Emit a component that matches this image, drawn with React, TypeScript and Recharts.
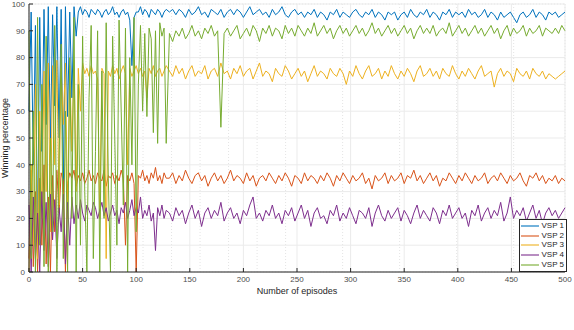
import {
  LineChart,
  Line,
  XAxis,
  YAxis,
  CartesianGrid,
  Legend,
} from 'recharts';

// episode index of each sample (every 2 episodes at the unstable start, every 3 after)
const episodes = [
  0, 2, 4, 6, 8, 10, 12, 14, 16, 18, 20,
  22, 24, 26, 28, 30, 32, 34, 36, 38, 40, 42,
  44, 46, 48, 50, 52, 54, 56, 58, 60, 62, 64,
  66, 68, 70, 72, 74, 76, 78, 80, 82, 84, 86,
  88, 90, 92, 94, 96, 98, 100, 102, 104, 106, 108,
  110, 112, 114, 116, 118, 120, 122, 124, 126, 128,
  131, 134, 137, 140, 143, 146, 149, 152, 155, 158,
  161, 164, 167, 170, 173, 176, 179, 182, 185, 188,
  191, 194, 197, 200, 203, 206, 209, 212, 215, 218,
  221, 224, 227, 230, 233, 236, 239, 242, 245, 248,
  251, 254, 257, 260, 263, 266, 269, 272, 275, 278,
  281, 284, 287, 290, 293, 296, 299, 302, 305, 308,
  311, 314, 317, 320, 323, 326, 329, 332, 335, 338,
  341, 344, 347, 350, 353, 356, 359, 362, 365, 368,
  371, 374, 377, 380, 383, 386, 389, 392, 395, 398,
  401, 404, 407, 410, 413, 416, 419, 422, 425, 428,
  431, 434, 437, 440, 443, 446, 449, 452, 455, 458,
  461, 464, 467, 470, 473, 476, 479, 482, 485, 488,
  491, 494, 497, 500,
];

const vsp1 = [
  60, 97, 40, 92, 10, 95, 45, 98, 55, 99, 48,
  96, 62, 99, 50, 98, 30, 99, 58, 97, 65, 99,
  88, 97, 99, 96, 98, 97, 95, 98, 97, 96, 98,
  97, 95, 97, 98, 96, 97, 99, 96, 97, 95, 97,
  98, 96, 97, 94, 77, 95, 97, 97, 99, 96, 98,
  97, 95, 98, 97, 96, 98, 97, 95, 97, 98,
  97, 98, 96, 98, 97, 95, 98, 96, 97, 99,
  96, 97, 95, 98, 97, 96, 98, 95, 97, 98,
  96, 98, 97, 95, 97, 99, 96, 97, 98, 96,
  97, 95, 98, 96, 97, 99, 96, 95, 97, 98,
  96, 97, 95, 97, 96, 98, 95, 97, 96, 94,
  97, 96, 98, 95, 97, 96, 95, 97, 98, 96,
  95, 97, 96, 98, 95, 97, 96, 94, 97, 96,
  97, 94, 96, 97, 95, 98, 96, 95, 97, 96,
  98, 95, 97, 96, 94, 97, 96, 98, 95, 97,
  96, 97, 95, 98, 96, 97, 95, 96, 98, 95,
  97, 96, 94, 97, 95, 96, 97, 95, 93, 96,
  97, 95, 96, 98, 95, 97, 96, 94, 97, 96,
  97, 95, 96, 97,
];

const vsp2 = [
  5, 38, 2, 30, 0, 35, 10, 40, 3, 28, 0,
  36, 15, 38, 22, 37, 34, 0, 33, 37, 35, 38,
  32, 36, 34, 37, 33, 35, 38, 34, 36, 33, 37,
  35, 34, 38, 32, 36, 35, 37, 33, 36, 34, 38,
  35, 10, 36, 34, 37, 33, 0, 36, 35, 38, 34,
  36, 33, 37, 35, 39, 34, 36, 33, 37, 35,
  35, 37, 33, 36, 34, 38, 35, 33, 36, 37,
  34, 36, 32, 35, 37, 34, 36, 33, 35, 38,
  34, 36, 35, 33, 37, 34, 36, 32, 35, 36,
  34, 37, 35, 33, 36, 34, 37, 35, 32, 36,
  35, 33, 37, 34, 36, 35, 33, 36, 34, 37,
  35, 32, 36, 34, 37, 35, 33, 36, 34, 35,
  37, 33, 35, 31, 36, 34, 35, 37, 33, 36,
  34, 35, 37, 33, 36, 35, 38, 34, 36, 33,
  35, 37, 34, 36, 32, 35, 34, 37, 35, 33,
  36, 34, 37, 35, 33, 36, 34, 35, 37, 33,
  35, 36, 34, 37, 35, 33, 36, 34, 35, 37,
  34, 32, 36, 35, 37, 34, 36, 33, 35, 34,
  36, 33, 35, 34,
];

const vsp3 = [
  0, 40, 10, 70, 5, 60, 20, 75, 30, 78, 15,
  77, 40, 79, 25, 76, 55, 78, 20, 77, 45, 79,
  30, 76, 60, 78, 74, 76, 73, 77, 74, 75, 72,
  20, 76, 74, 5, 75, 73, 77, 74, 76, 72, 75,
  77, 74, 40, 76, 73, 75, 77, 74, 76, 73, 75,
  65, 76, 74, 77, 73, 75, 76, 73, 75, 77,
  75, 73, 77, 74, 76, 72, 75, 77, 73, 75,
  74, 77, 72, 75, 76, 73, 78, 74, 75, 72,
  76, 74, 77, 73, 75, 76, 72, 75, 78, 73,
  75, 74, 71, 76, 74, 73, 77, 75, 72, 74,
  76, 73, 75, 71, 74, 77, 73, 75, 74, 72,
  76, 74, 73, 76, 74, 70, 75, 73, 77, 74,
  72, 75, 77, 73, 74, 76, 72, 75, 73, 77,
  74, 72, 75, 73, 76, 74, 71, 75, 77, 73,
  74, 76, 73, 75, 72, 76, 74, 73, 77, 74,
  72, 75, 73, 76, 74, 72, 75, 77, 73, 74,
  75, 69, 74, 76, 73, 75, 74, 71, 76, 74,
  73, 75, 72, 76, 74, 73, 75, 72, 74, 73,
  72, 73, 74, 75,
];

const vsp4 = [
  25, 0, 28, 5, 22, 0, 30, 8, 26, 2, 29,
  12, 27, 5, 24, 15, 29, 3, 26, 10, 28, 18,
  25, 20, 27, 22, 19, 25, 23, 21, 26, 24, 20,
  23, 26, 21, 24, 19, 22, 25, 21, 23, 18, 24,
  22, 26, 20, 23, 27, 21, 24, 22, 28, 20, 23,
  21, 25, 19, 22, 8, 24, 21, 25, 20, 23,
  22, 19, 24, 21, 23, 18, 22, 25, 20, 23,
  17, 22, 24, 20, 23, 21, 26, 19, 22, 24,
  20, 22, 18, 23, 21, 25, 28, 20, 22, 19,
  23, 21, 25, 20, 22, 18, 23, 21, 24, 19,
  22, 25, 20, 23, 17, 22, 24, 20, 21, 18,
  23, 21, 25, 19, 22, 20, 24, 21, 18, 23,
  22, 20, 24, 17, 22, 25, 21, 19, 23, 20,
  22, 24, 19, 23, 21, 18, 22, 25, 20, 23,
  21, 19, 24, 22, 18, 23, 21, 25, 20, 22,
  24, 20, 22, 17, 23, 21, 25, 19, 22, 24,
  20, 23, 21, 26, 19, 22, 28, 20, 23, 21,
  24, 19, 22, 25, 20, 23, 18, 22, 24, 21,
  23, 20, 22, 24,
];

const vsp5 = [
  90, 5, 60, 0, 95, 10, 70, 2, 88, 0, 50,
  15, 92, 0, 40, 85, 5, 60, 0, 80, 20, 95,
  0, 70, 10, 88, 30, 0, 65, 92, 5, 45, 90,
  0, 75, 20, 93, 35, 0, 88, 50, 10, 94, 60,
  25, 91, 0, 80, 40, 95, 15, 70, 92, 60, 89,
  58, 91, 87, 52, 90, 48, 93, 88, 91, 48,
  89, 86, 90, 88, 91, 87, 89, 92, 88, 90,
  87, 91, 89, 92, 88, 90, 54, 89, 91, 88,
  90, 92, 87, 89, 91, 88, 92, 90, 86, 91,
  89, 92, 88, 91, 90, 87, 92, 89, 91, 88,
  92, 90, 88, 91, 89, 93, 88, 90, 92, 89,
  91, 87, 90, 92, 89, 91, 88, 90, 92, 89,
  91, 88, 90, 93, 89, 91, 88, 90, 92, 89,
  91, 88, 90, 92, 89, 91, 87, 90, 92, 89,
  91, 89, 92, 88, 90, 91, 89, 93, 88, 90,
  92, 89, 91, 88, 90, 92, 89, 91, 88, 90,
  92, 89, 91, 87, 90, 92, 88, 91, 89, 90,
  92, 88, 91, 89, 90, 92, 88, 91, 90, 89,
  91, 89, 92, 90,
];

const xTicks = [0, 50, 100, 150, 200, 250, 300, 350, 400, 450, 500];
const yTicks = [0, 10, 20, 30, 40, 50, 60, 70, 80, 90, 100];
const xMinor = [
  0, 10, 20, 30, 40, 50, 60, 70, 80, 90, 100, 110, 120, 130, 140, 150, 160, 170, 180, 190, 200,
  210, 220, 230, 240, 250, 260, 270, 280, 290, 300, 310, 320, 330, 340, 350, 360, 370, 380, 390,
  400, 410, 420, 430, 440, 450, 460, 470, 480, 490, 500,
];
const yMinor = [
  0, 2, 4, 6, 8, 10, 12, 14, 16, 18, 20, 22, 24, 26, 28, 30, 32, 34, 36, 38, 40, 42, 44, 46, 48, 50,
  52, 54, 56, 58, 60, 62, 64, 66, 68, 70, 72, 74, 76, 78, 80, 82, 84, 86, 88, 90, 92, 94, 96, 98, 100,
];

const SERIES = [
  { key: 'vsp1', label: 'VSP 1', color: '#0072BD' },
  { key: 'vsp2', label: 'VSP 2', color: '#D95319' },
  { key: 'vsp3', label: 'VSP 3', color: '#EDB120' },
  { key: 'vsp4', label: 'VSP 4', color: '#7E2F8E' },
  { key: 'vsp5', label: 'VSP 5', color: '#77AC30' },
] as const;

const data = episodes.map((ep, i) => ({
  ep,
  vsp1: vsp1[i],
  vsp2: vsp2[i],
  vsp3: vsp3[i],
  vsp4: vsp4[i],
  vsp5: vsp5[i],
}));

const AXIS = '#262626';
const FONT = '"Liberation Sans", Arial, sans-serif';

const LegendBox = () => (
  <div
    style={{
      border: `1px solid ${AXIS}`,
      background: '#fff',
      padding: '1px 2px 1px 1px',
      fontSize: 8,
      lineHeight: '9.7px',
      color: AXIS,
      fontFamily: FONT,
    }}
  >
    {SERIES.map((s) => (
      <div key={s.key} style={{ display: 'flex', alignItems: 'center', whiteSpace: 'nowrap' }}>
        <span style={{ display: 'inline-block', width: 20, height: 2, background: s.color, opacity: 0.55, marginRight: 2 }} />
        <span>{s.label}</span>
      </div>
    ))}
  </div>
);

export default function App() {
  return (
    <div style={{ position: 'absolute', left: 0, top: 0, width: 574, height: 330, background: '#fff', fontFamily: FONT }}>
      <LineChart width={574} height={330} data={data} margin={{ top: 4, right: 9, left: 0, bottom: 0 }}>
        {/* minor grid on hidden helper axes */}
        <XAxis xAxisId="minor" type="number" domain={[0, 500]} ticks={xMinor} hide />
        <YAxis yAxisId="minor" type="number" domain={[0, 100]} ticks={yMinor} hide />
        <CartesianGrid xAxisId="minor" yAxisId="minor" stroke="#e4e4e4" strokeDasharray="1 2" />
        <CartesianGrid stroke="#ebebeb" />
        <XAxis
          dataKey="ep"
          type="number"
          domain={[0, 500]}
          ticks={xTicks}
          height={58}
          tickSize={-4}
          tickMargin={8}
          tick={{ fill: '#4d4d4d', fontSize: 8 }}
          axisLine={{ stroke: AXIS }}
          tickLine={{ stroke: AXIS }}
          label={{ value: 'Number of episodes', position: 'insideTop', offset: 16, fill: AXIS, fontSize: 9 }}
        />
        <YAxis
          type="number"
          domain={[0, 100]}
          ticks={yTicks}
          width={29}
          tickSize={-4}
          tickMargin={8}
          tick={{ fill: '#4d4d4d', fontSize: 8 }}
          axisLine={{ stroke: AXIS }}
          tickLine={{ stroke: AXIS }}
          label={{ value: 'Winning percentage', angle: -90, position: 'insideLeft', offset: 5, fill: AXIS, fontSize: 9, style: { textAnchor: 'middle' } }}
        />
        <XAxis
          xAxisId="top"
          orientation="top"
          type="number"
          domain={[0, 500]}
          ticks={xTicks}
          height={0}
          tickSize={-4}
          tickFormatter={() => ''}
          axisLine={{ stroke: AXIS }}
          tickLine={{ stroke: AXIS }}
        />
        <YAxis
          yAxisId="right"
          orientation="right"
          type="number"
          domain={[0, 100]}
          ticks={yTicks}
          width={0}
          tickSize={-4}
          tickFormatter={() => ''}
          axisLine={{ stroke: AXIS }}
          tickLine={{ stroke: AXIS }}
        />
        {SERIES.map((s) => (
          <Line
            key={s.key}
            type="linear"
            dataKey={s.key}
            name={s.label}
            stroke={s.color}
            strokeWidth={1}
            dot={false}
            isAnimationActive={false}
          />
        ))}
        <Legend
          layout="vertical"
          align="center"
          verticalAlign="middle"
          content={<LegendBox />}
          wrapperStyle={{ position: 'absolute', left: 519, top: 219, width: 48 }}
        />
      </LineChart>
    </div>
  );
}
